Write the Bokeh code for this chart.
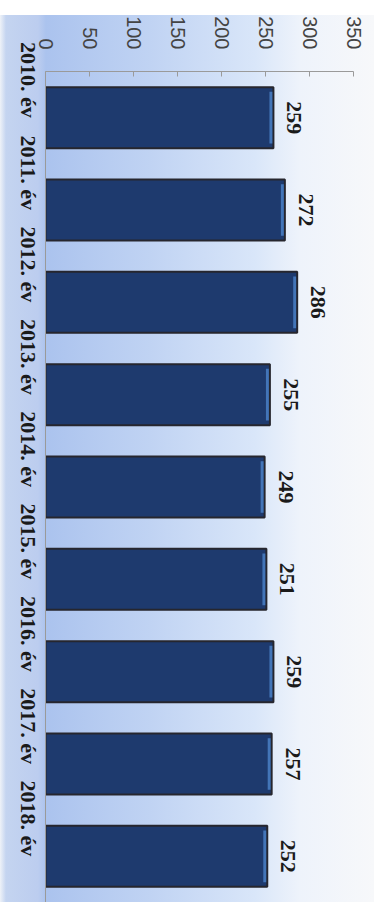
import math
from bokeh.plotting import figure
from bokeh.models import FactorRange, Range1d, FixedTicker, ColumnDataSource
from bokeh.core.properties import value
from bokeh.embed import file_html
from bokeh.resources import INLINE

# ---- data ----
years = ["2010. év", "2011. év", "2012. év", "2013. év", "2014. év",
         "2015. év", "2016. év", "2017. év", "2018. év"]
counts = [259, 272, 286, 255, 249, 251, 259, 257, 252]
value_ticks = [0, 50, 100, 150, 200, 250, 300, 350]

src = ColumnDataSource(dict(
    year=years,
    count=counts,
    label=[str(c) for c in counts],
    hl_left=[c - 4.5 for c in counts],
    hl_right=[c - 1.2 for c in counts],
))

p = figure(
    width=374, height=902,
    y_range=FactorRange(factors=list(reversed(years))),
    x_range=Range1d(0, 350),
    x_axis_location="above",
    output_backend="svg", toolbar_location=None,
    min_border_left=45, min_border_right=21,
    min_border_top=71, min_border_bottom=0,
)
p.border_fill_color = None
p.background_fill_color = None
p.outline_line_color = None
p.styles = {
    "background": "linear-gradient(#ffffff, #ffffff) top left / 100% 15px no-repeat, "
                  "linear-gradient(to right, #eef2f8 0px, #c4d4f0 6px, #bccdef 38px, #abc3ee 46px, "
                  "#c0d3f3 150px, #d9e6f9 255px, #eef3fb 300px, #f7f8fa 374px)"
}
p.xgrid.visible = False
p.ygrid.visible = False

# bars
p.hbar(y="year", right="count", left=0, height=0.66, source=src,
       fill_color="#1e3a6e", line_color="#26262e", line_width=2)
# bevel highlight at bar end
p.hbar(y="year", left="hl_left", right="hl_right", height=0.56, source=src,
       fill_color="#4a80c6", fill_alpha=0.85, line_color=None)

# value labels
p.text(x="count", y="year", text="label", source=src,
       angle=-math.pi / 2, x_offset=14,
       text_align="center", text_baseline="bottom",
       text_font=value("Liberation Serif"), text_font_style="bold",
       text_font_size="22px", text_color="#1a1a1a")

# value axis (top)
xa = p.xaxis[0]
xa.ticker = FixedTicker(ticks=value_ticks)
xa.major_label_orientation = -math.pi / 2
xa.major_label_text_font = "Liberation Sans"
xa.major_label_text_font_size = "20px"
xa.major_label_text_color = "#444444"
xa.major_label_standoff = 22
xa.axis_line_color = "#9a9a9a"
xa.major_tick_line_color = "#9a9a9a"
xa.major_tick_in = 5
xa.major_tick_out = 0
xa.minor_tick_line_color = None

# category axis (left)
ya = p.yaxis[0]
ya.major_label_orientation = -math.pi / 2
ya.major_label_text_font = "Liberation Serif"
ya.major_label_text_font_style = "bold"
ya.major_label_text_font_size = "22px"
ya.major_label_text_color = "#1a1a1a"
ya.major_label_standoff = 17
ya.axis_line_color = "#9a9a9a"
ya.major_tick_line_color = None
ya.major_tick_out = 0
ya.major_tick_in = 0
ya.minor_tick_line_color = None

open("out.html", "w").write(file_html(p, INLINE))
